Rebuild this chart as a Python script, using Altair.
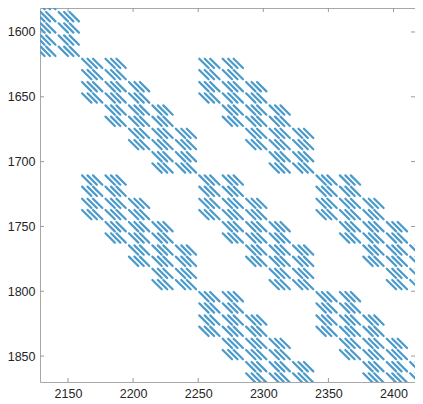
import altair as alt
import pandas as pd

# Sparsity structure (matrix row / column indices)
big_row_start = [1530, 1620, 1620, 1710, 1710, 1710, 1800, 1800]
big_col_start = [2070, 2160, 2250, 2160, 2250, 2340, 2250, 2340]
cell_size = 18
cells_per_block = 5
cell_band = [-1, 0, 1]
# dashes inside one cell (offsets from the cell corner): two rows of three
dash_c0 = [0.8, 5.0, 9.2, 0.8, 5.0, 9.2]
dash_r0 = [0.6, 0.6, 0.6, 9.3, 9.3, 9.3]
dash_len = [7.2, 7.2, 7.2, 7.2, 7.2, 7.2]

x_ticks = [2150, 2200, 2250, 2300, 2350, 2400]
y_ticks = [1600, 1650, 1700, 1750, 1800, 1850]
x_domain = [2128.5, 2416.5]
y_domain = [1581.5, 1870.0]

rows = []
for R, C in zip(big_row_start, big_col_start):
    for p in range(cells_per_block):
        for b in cell_band:
            q = p + b
            if q < 0 or q >= cells_per_block:
                continue
            r0 = R + cell_size * p
            c0 = C + cell_size * q
            for a, b0, L in zip(dash_c0, dash_r0, dash_len):
                rows.append({"x": c0 + a, "y": r0 + b0, "x2": c0 + a + L, "y2": r0 + b0 + L})
df = pd.DataFrame(rows)

W, H = 375, 374
font = "Liberation Sans"
xs = alt.Scale(domain=x_domain, nice=False, zero=False)
ys = alt.Scale(domain=y_domain, nice=False, zero=False, reverse=True)

dashes = alt.Chart(df).mark_rule(color="#4a9acb", strokeWidth=2.2, strokeCap="round", clip=True).encode(
    x=alt.X("x:Q", scale=xs, axis=alt.Axis(values=x_ticks, ticks=False, grid=False, domain=False,
                                           title=None, labelFont=font, labelFontSize=12.5,
                                           labelColor="#262626", labelPadding=5, format="d")),
    x2="x2:Q",
    y=alt.Y("y:Q", scale=ys, axis=alt.Axis(values=y_ticks, ticks=False, grid=False, domain=False,
                                           title=None, labelFont=font, labelFontSize=12.5,
                                           labelColor="#262626", labelPadding=5, format="d")),
    y2="y2:Q",
)

xt = pd.DataFrame({"t": x_ticks})
yt = pd.DataFrame({"t": y_ticks})
tick_color = "#9a9a9a"
bt = alt.Chart(xt).mark_rule(color=tick_color).encode(x=alt.X("t:Q", scale=xs), y=alt.value(H), y2=alt.value(H - 4))
tt = alt.Chart(xt).mark_rule(color=tick_color).encode(x=alt.X("t:Q", scale=xs), y=alt.value(0), y2=alt.value(4))
lt = alt.Chart(yt).mark_rule(color=tick_color).encode(y=alt.Y("t:Q", scale=ys), x=alt.value(0), x2=alt.value(4))
rt = alt.Chart(yt).mark_rule(color=tick_color).encode(y=alt.Y("t:Q", scale=ys), x=alt.value(W), x2=alt.value(W - 4))

chart = alt.layer(dashes, bt, tt, lt, rt).properties(
    width=W, height=H,
    autosize=alt.AutoSizeParams(type="none"),
    padding={"left": 32, "top": 0, "right": 0, "bottom": 22},
).configure_view(stroke="#a8a8a8", strokeWidth=1)

chart.save("out.html", embed_options={"renderer": "svg", "actions": False})
